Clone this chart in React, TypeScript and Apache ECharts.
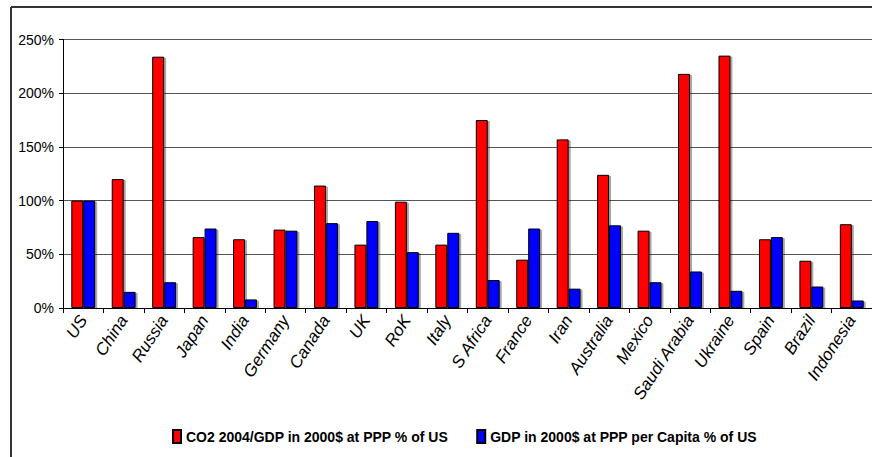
import React, { useEffect, useRef } from "react";
import * as echarts from "echarts";

const categories = ["US", "China", "Russia", "Japan", "India", "Germany", "Canada", "UK", "RoK", "Italy", "S Africa", "France", "Iran", "Australia", "Mexico", "Saudi Arabia", "Ukraine", "Spain", "Brazil", "Indonesia"];
const co2Values = [100, 120, 234, 66, 64, 73, 114, 59, 99, 59, 175, 45, 157, 124, 72, 218, 235, 64, 44, 78];
const gdpValues = [100, 15, 24, 74, 8, 72, 79, 81, 52, 70, 26, 74, 18, 77, 24, 34, 16, 66, 20, 7];
const seriesNames = ["CO2 2004/GDP in 2000$ at PPP % of US", "GDP in 2000$ at PPP per Capita % of US"];

const FONT = "Liberation Sans";

export default function App() {
  const ref = useRef<HTMLDivElement>(null);
  useEffect(() => {
    const chart = echarts.init(ref.current!, null, { renderer: "svg" });
    const barStyle = (color: string) => ({
      color,
      borderColor: "#000",
      borderWidth: 1,
      shadowColor: "rgba(0,0,0,0.35)",
      shadowOffsetX: 2,
      shadowOffsetY: 1,
      shadowBlur: 0,
    });
    chart.setOption({
      animation: false,
      backgroundColor: "#fff",
      grid: { left: 63, right: -9, top: 39.5, bottom: 149, containLabel: false },
      legend: {
        bottom: 8,
        left: 167,
        itemWidth: 8,
        itemHeight: 13,
        itemGap: 28,
        icon: "rect",
        textStyle: { fontFamily: FONT, fontSize: 14, fontWeight: "bold", color: "#000" },
        data: seriesNames,
      },
      xAxis: {
        type: "category",
        data: categories,
        axisLine: { lineStyle: { color: "#000", width: 1 } },
        axisTick: { show: true, length: 5, lineStyle: { color: "#000" } },
        axisLabel: {
          rotate: 57,
          interval: 0,
          margin: 9,
          fontFamily: FONT,
          fontSize: 17,
          fontStyle: "oblique",
          color: "#000",
        },
      },
      yAxis: {
        type: "value",
        min: 0,
        max: 250,
        interval: 50,
        axisLine: { show: true, lineStyle: { color: "#000", width: 1 } },
        axisTick: { show: true, length: 4, lineStyle: { color: "#000" } },
        axisLabel: {
          formatter: "{value}%",
          fontFamily: FONT,
          fontSize: 14,
          color: "#000",
          margin: 9,
        },
        splitLine: { show: true, lineStyle: { color: "#555", width: 1 } },
      },
      series: [
        {
          name: seriesNames[0],
          type: "bar",
          data: co2Values,
          barGap: "0%",
          barCategoryGap: "41%",
          itemStyle: barStyle("#ff0000"),
        },
        {
          name: seriesNames[1],
          type: "bar",
          data: gdpValues,
          barGap: "0%",
          barCategoryGap: "41%",
          itemStyle: barStyle("#0000ff"),
        },
      ],
      graphic: [
        { type: "line", shape: { x1: 11, y1: 7, x2: 872, y2: 7 }, style: { stroke: "#333", lineWidth: 2 } },
        { type: "line", shape: { x1: 11, y1: 7, x2: 11, y2: 457 }, style: { stroke: "#333", lineWidth: 2 } },
      ],
    });
    return () => chart.dispose();
  }, []);
  return (
    <div style={{ position: "fixed", left: 0, top: 0, width: 872, height: 457, background: "#fff" }}>
      <div ref={ref} style={{ width: 872, height: 457 }} />
    </div>
  );
}
